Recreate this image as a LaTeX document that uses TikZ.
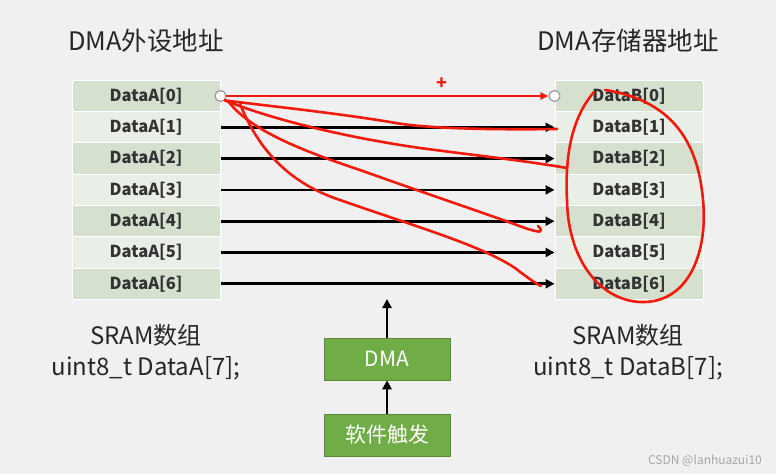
\documentclass[tikz,border=0pt]{standalone}
\usepackage{fontspec}
\setmainfont{Noto Sans CJK SC}
\usetikzlibrary{arrows.meta}
\definecolor{bgc}{HTML}{F0F0F0}
\definecolor{dark}{HTML}{D5E0CF}
\definecolor{light}{HTML}{E9EEE6}
\definecolor{txt}{HTML}{333333}
\definecolor{gbox}{HTML}{70AD47}
\definecolor{ink}{HTML}{F21A0C}
\tikzset{
  cell/.style={draw=white, line width=1pt, minimum width=148pt, minimum height=31.3pt, inner sep=0pt, text=txt, font=\fontsize{16.5}{18}\selectfont\bfseries},
  darkcell/.style={cell, fill=dark},
  lightcell/.style={cell, fill=light},
  flow/.style={line width=2.8pt, -{Triangle[length=9pt,width=9pt]}},
  port/.style={circle, draw=gray!80, fill=white, line width=1.2pt, minimum size=11pt, inner sep=0pt},
  title/.style={font=\fontsize{25.5}{28}\selectfont, text=black!85},
  caption/.style={font=\fontsize{24}{31}\selectfont, text=black!85, align=center},
  gbox/.style={fill=gbox, draw=gbox!80!black, line width=0.6pt, minimum width=126pt, minimum height=42pt, inner sep=0pt, text=white, font=\fontsize{21}{24}\selectfont},
  redink/.style={draw=ink, line width=2.6pt, line cap=round, line join=round},
}
\begin{document}
\begin{tikzpicture}[x=1pt,y=-1pt]
\fill[bgc] (0,0) rectangle (776,474);
\useasboundingbox (0,0) rectangle (776,474);

\node[title] (ta) at (146,41) {DMA外设地址};
\node[title] (tb) at (628,41) {DMA存储器地址};

\foreach \i in {0,...,6} {
  \pgfmathtruncatemacro{\odd}{mod(\i,2)}
  \ifnum\odd=0
    \node[darkcell] (a\i) at (146,{96+31.3*\i}) {DataA[\i]};
    \node[darkcell] (b\i) at (629,{96+31.3*\i}) {DataB[\i]};
  \else
    \node[lightcell] (a\i) at (146,{96+31.3*\i}) {DataA[\i]};
    \node[lightcell] (b\i) at (629,{96+31.3*\i}) {DataB[\i]};
  \fi
}
\foreach \i in {1,...,6} {
  \draw[flow] (a\i.east) -- (b\i.west);
}

\node[caption] (sa) at (146,352) {SRAM数组\\uint8\_t DataA[7];};
\node[caption] (sb) at (628,352) {SRAM数组\\uint8\_t DataB[7];};

\node[gbox] (dma) at (387,359) {DMA};
\node[gbox] (sw) at (387,435) {软件触发};
\coordinate (up) at (387,299);
\draw[flow] (dma.north) -- (up);
\draw[flow] (sw.north) -- (dma.south);

\node[font=\fontsize{12}{14}\selectfont, text=gray!70] (wm) at (705,461) {CSDN @lanhuazui10};

% red annotations
\node[port] (ca) at (a0.east) {};
\node[port] (cb) at (b0.west) {};
\draw[redink, -{Triangle[length=8pt,width=7pt]}] (ca.east) -- (cb.west);
\node[text=ink, font=\fontsize{18}{18}\selectfont\bfseries] (plus) at (442,84) {+};

\draw[redink] (ca.south east) .. controls (250,104) and (330,112) .. (390,122)
  .. controls (420,128) and (480,130) .. (557,129);
\draw[redink] (ca.south east) .. controls (260,115) and (330,135) .. (420,148)
  .. controls (480,156) and (520,160) .. (567,168);
\draw[redink] (228,101) .. controls (250,130) and (300,150) .. (360,170)
  .. controls (430,195) and (490,215) .. (525,228) .. controls (540,233) and (545,233) .. (538,226);
\draw[redink] (240,104) .. controls (255,140) and (280,180) .. (340,200)
  .. controls (420,228) and (480,245) .. (515,268) .. controls (528,278) and (535,283) .. (541,286);
\draw[redink] (594,92) .. controls (570,120) and (565,160) .. (567,200)
  .. controls (568,260) and (600,300) .. (640,302)
  .. controls (690,304) and (708,250) .. (703,200)
  .. controls (698,140) and (670,100) .. (605,90);
\end{tikzpicture}
\end{document}
